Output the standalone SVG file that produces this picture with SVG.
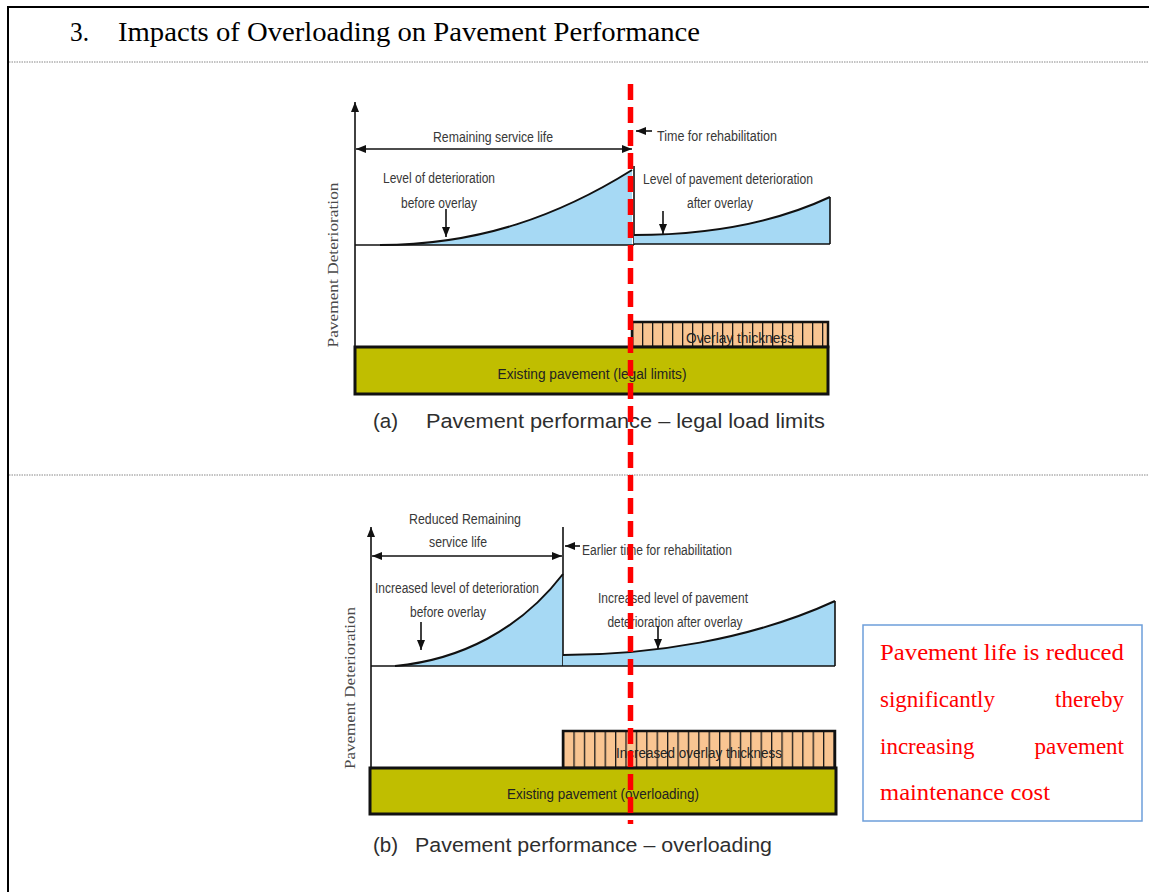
<svg xmlns="http://www.w3.org/2000/svg" width="1149" height="892" viewBox="0 0 1149 892">
<defs>
<style>
.lbl{font-family:"Liberation Sans",Arial,sans-serif;font-size:15.5px;fill:#383838;text-anchor:middle}
.cap{font-family:"Liberation Sans",Arial,sans-serif;font-size:20.5px;fill:#2e2e2e}
.ylab{font-family:"Liberation Serif","Times New Roman",serif;font-size:15px;fill:#4a4a4a;text-anchor:middle}
.ln{stroke:#111;stroke-width:1.6;fill:none}
.ar{stroke:#111;stroke-width:1.6;fill:none;marker-end:url(#ah)}
.dar{stroke:#111;stroke-width:1.6;fill:none;marker-end:url(#ah);marker-start:url(#ah)}
.fillb{fill:#a6d9f4;stroke:none}
.curve{stroke:#111;stroke-width:2;fill:none}
.exist{fill:#c0be00;stroke:#111;stroke-width:3}
.over{stroke:#111;stroke-width:2.5}
.red{font-family:"Liberation Serif","Times New Roman",serif;font-size:23px;fill:#ff0000}
</style>
<marker id="ah" viewBox="0 0 10 8" refX="10" refY="4" markerWidth="11" markerHeight="8" markerUnits="userSpaceOnUse" orient="auto-start-reverse">
<path d="M0,0 L10,4 L0,8 z" fill="#111"/>
</marker>
<pattern id="hatchA" x="632" y="0" width="10" height="10" patternUnits="userSpaceOnUse">
<rect width="10" height="10" fill="#f9c592"/>
<line x1="0.6" y1="0" x2="0.6" y2="10" stroke="#1a1a1a" stroke-width="1.4"/>
</pattern>
<pattern id="hatchB" x="563" y="0" width="10.4" height="10" patternUnits="userSpaceOnUse">
<rect width="10.4" height="10" fill="#f9c592"/>
<line x1="0.6" y1="0" x2="0.6" y2="10" stroke="#1a1a1a" stroke-width="1.4"/>
</pattern>
</defs>
<rect width="1149" height="892" fill="#fff"/>

<g id="frame">
<line x1="8" y1="7" x2="1149" y2="7" stroke="#000" stroke-width="2"/>
<line x1="8" y1="6" x2="8" y2="892" stroke="#000" stroke-width="2"/>
<line x1="9" y1="62" x2="1149" y2="62" stroke="#888" stroke-width="1" stroke-dasharray="1.5 1"/>
<line x1="9" y1="475" x2="1149" y2="475" stroke="#888" stroke-width="1" stroke-dasharray="1.5 1"/>
<text x="70" y="41" font-family="'Liberation Serif','Times New Roman',serif" font-size="28px" fill="#000" textLength="19" lengthAdjust="spacingAndGlyphs">3.</text>
<text x="118" y="41" font-family="'Liberation Serif','Times New Roman',serif" font-size="28px" fill="#000" textLength="582" lengthAdjust="spacingAndGlyphs">Impacts of Overloading on Pavement Performance</text>
</g>

<!-- Panel (a) -->
<g id="panelA-curves">
<path class="fillb" d="M380,245 C480,245 560,215 632,170 L632,245 Z"/>
<path class="curve" d="M380,245 C480,245 560,215 632,170"/>
<line class="ln" x1="355" y1="245" x2="634" y2="245"/>
<line class="ln" x1="634" y1="166" x2="634" y2="245"/>
<path class="fillb" d="M634,235 C700,235 770,225 830,197 L830,244 L634,244 Z"/>
<path class="curve" d="M634,235 C700,235 770,225 830,197"/>
<line class="ln" x1="634" y1="244" x2="830" y2="244"/>
<line class="ln" x1="830" y1="197" x2="830" y2="244"/>
</g>
<g id="panelA-axis">
<line class="ar" x1="355" y1="347" x2="355" y2="102"/>
<text class="ylab" transform="translate(338,265) rotate(-90)" textLength="165" lengthAdjust="spacingAndGlyphs">Pavement Deterioration</text>
</g>
<g id="panelA-labels">
<text class="lbl" x="493" y="142" textLength="120" lengthAdjust="spacingAndGlyphs">Remaining service life</text>
<text class="lbl" x="717" y="141" textLength="120" lengthAdjust="spacingAndGlyphs">Time for rehabilitation</text>
<text class="lbl" x="439" y="183" textLength="112" lengthAdjust="spacingAndGlyphs">Level of deterioration</text>
<text class="lbl" x="439" y="208" textLength="76" lengthAdjust="spacingAndGlyphs">before overlay</text>
<text class="lbl" x="728" y="184" textLength="170" lengthAdjust="spacingAndGlyphs">Level of pavement deterioration</text>
<text class="lbl" x="720" y="208" textLength="66" lengthAdjust="spacingAndGlyphs">after overlay</text>
</g>
<g id="panelA-overlay">
<rect class="over" x="632" y="322" width="196" height="25" fill="url(#hatchA)"/>
<text class="lbl" x="740" y="343" textLength="108" lengthAdjust="spacingAndGlyphs" style="fill:#222">Overlay thickness</text>
</g>
<g id="panelA-existing">
<rect class="exist" x="355" y="347" width="473" height="47"/>
<text class="lbl" x="592" y="379" textLength="189" lengthAdjust="spacingAndGlyphs" style="fill:#222">Existing pavement (legal limits)</text>
</g>
<g id="panelA-caption">
<text class="cap" x="373" y="428">(a)</text>
<text class="cap" x="426" y="428" textLength="399" lengthAdjust="spacingAndGlyphs">Pavement performance – legal load limits</text>
</g>

<!-- Panel (b) -->
<g id="panelB-curves">
<path class="fillb" d="M395,666 C460,660 520,630 563,574 L563,666 Z"/>
<path class="curve" d="M395,666 C460,660 520,630 563,574"/>
<line class="ln" x1="371" y1="666" x2="563" y2="666"/>
<line class="ln" x1="563" y1="527" x2="563" y2="666"/>
<path class="fillb" d="M563,655 C650,655 750,640 835,601 L835,666 L563,666 Z"/>
<path class="curve" d="M563,655 C650,655 750,640 835,601"/>
<line class="ln" x1="563" y1="666" x2="835" y2="666"/>
<line class="ln" x1="835" y1="601" x2="835" y2="666"/>
</g>
<g id="panelB-axis">
<line class="ar" x1="371" y1="767" x2="371" y2="527"/>
<text class="ylab" transform="translate(355,688) rotate(-90)" textLength="162" lengthAdjust="spacingAndGlyphs">Pavement Deterioration</text>
</g>
<g id="panelB-labels">
<text class="lbl" x="465" y="524" textLength="112" lengthAdjust="spacingAndGlyphs">Reduced Remaining</text>
<text class="lbl" x="458" y="547" textLength="58" lengthAdjust="spacingAndGlyphs">service life</text>
<text class="lbl" x="657" y="555" textLength="150" lengthAdjust="spacingAndGlyphs">Earlier time for rehabilitation</text>
<text class="lbl" x="457" y="593" textLength="164" lengthAdjust="spacingAndGlyphs">Increased level of deterioration</text>
<text class="lbl" x="448" y="617" textLength="76" lengthAdjust="spacingAndGlyphs">before overlay</text>
<text class="lbl" x="673" y="603" textLength="150" lengthAdjust="spacingAndGlyphs">Increased level of pavement</text>
<text class="lbl" x="675" y="627" textLength="135" lengthAdjust="spacingAndGlyphs">deterioration after overlay</text>
</g>
<g id="panelB-overlay">
<rect class="over" x="563" y="731" width="272" height="37" fill="url(#hatchB)"/>
<text class="lbl" x="699" y="758" textLength="166" lengthAdjust="spacingAndGlyphs" style="fill:#222">Increased overlay thickness</text>
</g>
<g id="panelB-existing">
<rect class="exist" x="370" y="768" width="466" height="46"/>
<text class="lbl" x="603" y="799" textLength="192" lengthAdjust="spacingAndGlyphs" style="fill:#222">Existing pavement (overloading)</text>
</g>
<g id="panelB-caption">
<text class="cap" x="373" y="852">(b)</text>
<text class="cap" x="415" y="852" textLength="357" lengthAdjust="spacingAndGlyphs">Pavement performance – overloading</text>
</g>

<g id="connectors">
<line class="dar" x1="356" y1="149" x2="632" y2="149"/>
<line class="ar" x1="652" y1="131" x2="636" y2="131"/>
<line class="ar" x1="446" y1="209" x2="446" y2="237"/>
<line class="ar" x1="663" y1="211" x2="663" y2="234"/>
<line class="dar" x1="372" y1="556" x2="562" y2="556"/>
<line class="ar" x1="580" y1="546" x2="565" y2="546"/>
<line class="ar" x1="421" y1="622" x2="421" y2="650"/>
<line class="ar" x1="658" y1="626" x2="658" y2="649"/>
</g>

<g id="red-divider">
<line x1="630.5" y1="84" x2="630.5" y2="824" stroke="#ff0000" stroke-width="5.5" stroke-dasharray="16 7"/>
</g>

<g id="note">
<rect x="863" y="625" width="279" height="196" fill="#fff" stroke="#6d9eda" stroke-width="1.5"/>
<text class="red" x="880" y="660" textLength="244" lengthAdjust="spacingAndGlyphs">Pavement life is reduced</text>
<text class="red" x="880" y="707">significantly</text>
<text class="red" x="1124" y="707" text-anchor="end">thereby</text>
<text class="red" x="880" y="754">increasing</text>
<text class="red" x="1124" y="754" text-anchor="end">pavement</text>
<text class="red" x="880" y="800" textLength="170" lengthAdjust="spacingAndGlyphs">maintenance cost</text>
</g>
</svg>
